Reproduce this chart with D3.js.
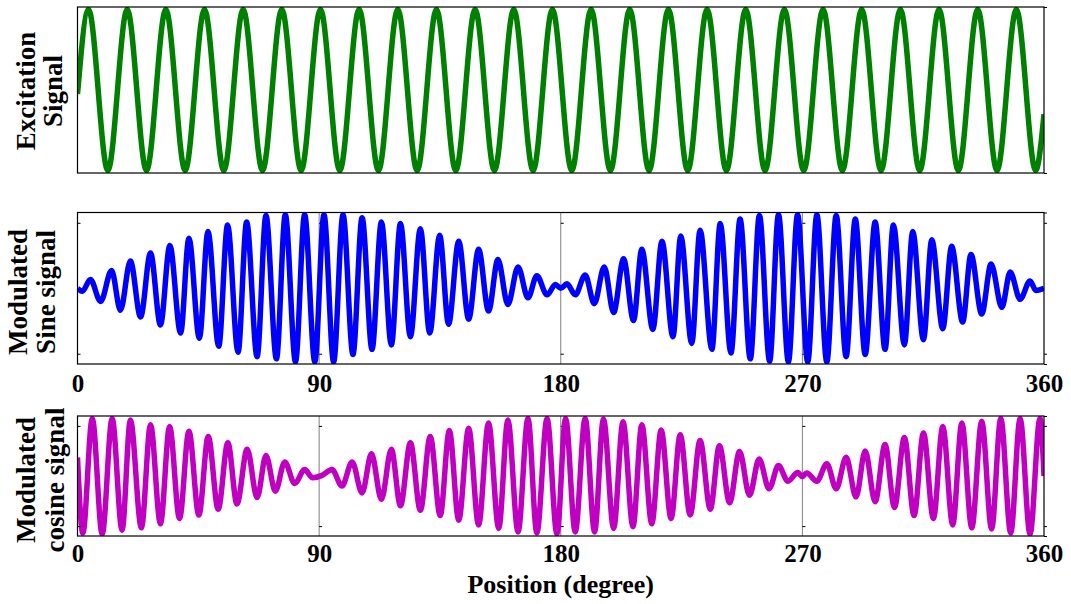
<!DOCTYPE html>
<html><head><meta charset="utf-8">
<script src="https://cdn.jsdelivr.net/npm/d3@7"></script>
<style>
body{margin:0;background:#fff}
svg{display:block}
text{font-family:"Liberation Serif","Times New Roman",serif;font-weight:bold;fill:#000}
</style>
</head><body><svg id="c" width="1071" height="604"></svg>
<script>
// ---------- data ----------
const xTicks = [0, 90, 180, 270, 360];

// Excitation signal: extrema positions (degree) and values
const excDeg = [0,4.1,11.3,18.5,25.7,32.9,40.1,47.3,54.5,61.7,68.9,76.1,83.3,90.5,97.7,104.9,112.1,119.3,126.5,133.7,140.9,148.1,155.3,162.5,169.7,176.9,184.1,191.3,198.5,205.7,212.9,220.1,227.3,234.5,241.7,248.9,256.1,263.3,270.5,277.7,284.9,292.1,299.3,306.5,313.7,320.9,328.1,335.3,342.5,349.7,356.9,360];
const excVal = [-0.05,
  1,-1,1,-1,1,-1,1,-1,1,-1,
  1,-1,1,-1,1,-1,1,-1,1,-1,
  1,-1,1,-1,1,-1,1,-1,1,-1,
  1,-1,1,-1,1,-1,1,-1,1,-1,
  1,-1,1,-1,1,-1,1,-1,1,-1,
  -0.3];

// Modulated sine signal
const sineDeg = [0,1.8,4.8,8.6,12.7,16.0,19.7,23.5,27.2,30.9,34.4,38.4,41.5,45.4,48.6,52.6,55.9,59.8,63.0,66.9,70.2,74.1,77.4,81.2,84.6,88.4,91.8,95.4,98.9,102.6,106.0,109.7,113.2,116.9,120.3,124.0,127.7,131.2,134.9,138.2,142.0,145.7,149.4,153.1,156.6,160.3,164.1,167.8,171.1,174.9,178.0,180.0,182.3,185.4,189.1,192.5,196.2,199.7,203.4,207.1,210.2,214.3,217.7,221.8,224.7,228.8,231.9,236.3,239.4,243.4,246.8,250.6,254.0,257.8,261.1,264.8,268.2,272.0,275.4,279.1,282.6,286.3,289.7,293.4,297.1,300.8,303.9,308.0,311.1,315.1,318.2,322.3,325.6,329.7,332.8,336.8,340.3,344.3,347.4,351.1,354.8,357.0,360];
const sineVal = [0,-0.04,0.12,-0.18,0.24,-0.30,0.37,-0.39,0.48,-0.50,0.58,-0.61,0.68,-0.68,0.77,-0.79,0.86,-0.87,0.90,-0.93,0.99,-0.96,1.0,-1.0,1.0,-1.0,1.0,-1.0,1.0,-0.90,0.96,-0.83,0.90,-0.77,0.88,-0.66,0.81,-0.61,0.72,-0.49,0.64,-0.42,0.53,-0.31,0.39,-0.22,0.29,-0.13,0.17,-0.09,0.05,0.0,0.06,-0.09,0.18,-0.21,0.29,-0.33,0.40,-0.44,0.53,-0.56,0.64,-0.66,0.71,-0.75,0.79,-0.83,0.88,-0.88,0.94,-0.96,0.99,-0.99,1.0,-1.0,1.0,-1.0,1.0,-1.0,0.99,-0.93,0.94,-0.90,0.90,-0.83,0.86,-0.77,0.77,-0.70,0.66,-0.55,0.57,-0.46,0.46,-0.35,0.33,-0.26,0.22,-0.15,0.10,-0.03,0.0];

// Modulated cosine signal
const cosDeg = [0,2.0,5.5,9.2,12.9,16.6,19.7,23.8,27.2,30.9,34.3,38.0,41.5,45.2,48.7,52.4,56.0,59.4,63.2,66.9,70.2,73.7,77.2,80.9,84.6,87.6,91.1,94.8,98.5,102.3,106.0,109.5,113.2,116.9,120.3,124.0,127.7,131.4,135.1,138.5,142.0,145.7,149.4,153.1,156.9,160.3,164.1,167.8,171.1,174.9,178.6,181.8,185.4,189.1,192.6,195.9,199.7,203.2,206.9,210.2,213.9,217.4,221.1,224.5,228.2,231.9,235.7,239.1,242.9,246.6,250.3,253.9,257.6,261.1,264.6,268.3,270.0,271.6,275.4,279.1,282.6,286.3,290.0,293.4,297.1,300.8,304.3,308.0,311.6,315.1,318.8,322.3,326.0,329.4,333.1,336.8,340.5,343.9,347.6,351.1,354.8,358.5,360];
const cosVal = [0.32,-0.98,0.99,-1.0,0.99,-0.93,0.96,-0.89,0.88,-0.82,0.85,-0.73,0.77,-0.67,0.68,-0.57,0.57,-0.48,0.46,-0.37,0.35,-0.26,0.24,-0.13,0.11,-0.03,0.01,0.11,-0.17,0.24,-0.29,0.38,-0.40,0.46,-0.51,0.57,-0.59,0.68,-0.68,0.78,-0.76,0.82,-0.84,0.91,-0.90,0.96,-0.96,0.99,-0.98,0.99,-1.0,0.99,-0.96,0.99,-0.96,0.98,-0.90,0.93,-0.87,0.88,-0.82,0.79,-0.73,0.71,-0.67,0.61,-0.57,0.52,-0.46,0.42,-0.33,0.29,-0.22,0.18,-0.09,0.06,-0.01,0.05,-0.09,0.21,-0.22,0.32,-0.36,0.43,-0.44,0.54,-0.54,0.66,-0.68,0.74,-0.73,0.85,-0.84,0.91,-0.89,0.94,-0.91,0.99,-0.98,0.99,-1.0,0.99,0.0];

const gridDeg = [90, 180, 270];
const excLabel = ["Excitation", "Signal"];
const sineLabel = ["Modulated", "Sine signal"];
const cosLabel = ["Modulated", "cosine signal"];
const xTitle = "Position (degree)";

// ---------- drawing ----------
const svg = d3.select("#c");
const L = 77.5, R = 1044;
const x = d3.scaleLinear().domain([0, 360]).range([L, R]);

const panels = [
  {id:"p1", deg:excDeg, val:excVal, color:"#008000", top:7, bot:173, dom:1.03, yt:[], grid:false, xlab:false, pad:10, lab:excLabel, labX:[35,62], labY:91},
  {id:"p2", deg:sineDeg, val:sineVal, color:"#0000ff", top:212.5, bot:364, dom:1.03, yt:[-0.89,0.89], grid:true, xlab:true, pad:10, lab:sineLabel, labX:[27,55], labY:292},
  {id:"p3", deg:cosDeg, val:cosVal, color:"#c000c0", top:416, bot:536, dom:1.03, yt:[-0.86,0.86], grid:true, xlab:true, pad:8.5, lab:cosLabel, labX:[35,64], labY:480}
];

panels.forEach(p => {
  const y = d3.scaleLinear().domain([-p.dom, p.dom]).range([p.bot, p.top]);
  const g = svg.append("g");

  g.append("clipPath").attr("id", "clip-" + p.id)
    .append("rect").attr("x", L).attr("y", p.top).attr("width", R - L).attr("height", p.bot - p.top);

  // grid lines
  if (p.grid) {
    g.selectAll(".grid").data(gridDeg).enter().append("line")
      .attr("x1", d => x(d)).attr("x2", d => x(d))
      .attr("y1", p.top).attr("y2", p.bot)
      .attr("stroke", "#808080").attr("stroke-width", 1);
    gridDeg.forEach(d => {
      const a = g.append("g").attr("transform", `translate(${x(d)},0)`)
        .call(d3.axisRight(y).tickValues(p.yt).tickSize(3).tickFormat(""));
      a.select(".domain").remove();
      a.selectAll("line").attr("stroke", "#000");
    });
  }

  const line = d3.line()
    .x((d, i) => x(p.deg[i]))
    .y((d, i) => y(p.val[i]))
    .curve(d3.curveMonotoneX);

  g.append("path").datum(p.val)
    .attr("d", line)
    .attr("fill", "none")
    .attr("stroke", p.color)
    .attr("stroke-width", 5.5)
    .attr("stroke-linejoin", "round")
    .attr("clip-path", `url(#clip-${p.id})`);

  // frame
  g.append("rect").attr("x", L).attr("y", p.top).attr("width", R - L).attr("height", p.bot - p.top)
    .attr("fill", "none").attr("stroke", "#000").attr("stroke-width", 1.2);

  // left ticks (inward)
  if (p.yt.length) {
    const al = g.append("g").attr("transform", `translate(${L},0)`)
      .call(d3.axisLeft(y).tickValues(p.yt).tickSize(-3).tickFormat(""));
    al.select(".domain").remove();
  }
  // right ticks (outward)
  const ar = g.append("g").attr("transform", `translate(${R},0)`)
    .call(d3.axisRight(y).tickValues(p.yt.concat([-p.dom, p.dom])).tickSize(3).tickFormat(""));
  ar.select(".domain").remove();

  // x tick labels
  if (p.xlab) {
    const ax = g.append("g").attr("transform", `translate(0,${p.bot})`)
      .call(d3.axisBottom(x).tickValues(xTicks).tickSize(0).tickPadding(p.pad).tickFormat(d3.format("d")));
    ax.select(".domain").remove();
    ax.selectAll("text").style("font-size", "25px")
      .style("font-family", '"Liberation Serif","Times New Roman",serif').style("font-weight", "bold").attr("fill", "#000");
  }

  // y label (two lines, rotated)
  p.lab.forEach((t, i) => {
    svg.append("text")
      .attr("transform", `translate(${p.labX[i]},${p.labY}) rotate(-90)`)
      .attr("text-anchor", "middle")
      .style("font-size", "27px")
      .text(t);
  });
});

svg.append("text")
  .attr("x", (L + R) / 2).attr("y", 593)
  .attr("text-anchor", "middle")
  .style("font-size", "26px")
  .text(xTitle);
</script>
</body></html>
